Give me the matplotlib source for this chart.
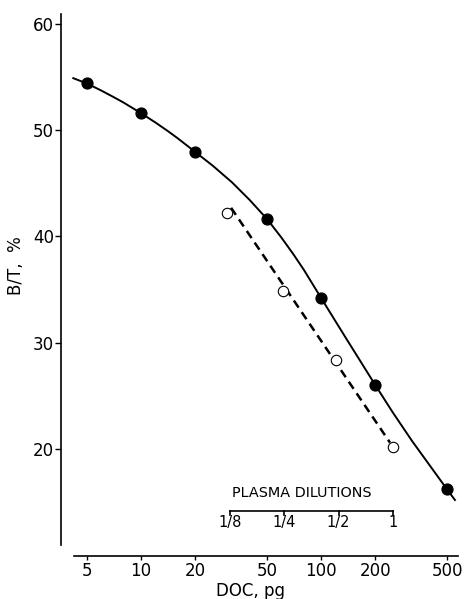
import numpy as np
import matplotlib
matplotlib.use('Agg')
import matplotlib.pyplot as plt

# standards (filled circles)
std_x = [5, 10, 20, 50, 100, 200, 500]
std_y = [54.4, 51.6, 47.95, 41.65, 34.2, 26.0, 16.2]

# smooth standard curve
curve_x = [4.2, 5, 6, 7, 8, 10, 12, 14, 16, 20, 25, 32, 40, 50, 60, 70, 80,
           100, 120, 140, 160, 200, 250, 320, 400, 500, 553]
curve_y = [54.9, 54.4, 53.74, 53.14, 52.6, 51.6, 50.73, 49.95, 49.23, 47.95,
           46.66, 45.09, 43.45, 41.65, 39.92, 38.34, 36.88, 34.2, 32.03, 30.2,
           28.63, 26.0, 23.43, 20.74, 18.47, 16.2, 15.2]

# plasma dilutions (open circles) and dashed line
plasma_x = [30, 61, 121, 250]
plasma_y = [42.2, 34.9, 28.4, 20.2]
dash_x = [31.6, 241]
dash_y = [42.7, 20.6]

dil_pos = [31.25, 62.5, 125, 250]
dil_lab = ['1/8', '1/4', '1/2', '1']

xticks = [5, 10, 20, 50, 100, 200, 500]
yticks = [20, 30, 40, 50, 60]

fig = plt.figure(figsize=(4.68, 5.99), dpi=100)
ax = fig.add_axes([61/468, 43/599, 397/468, 542/599])
ax.set_xscale('log')
ax.set_xlim(3.59, 575)
ax.set_ylim(9.93, 60.94)

ax.plot(curve_x, curve_y, color='black', lw=1.4, zorder=2, solid_joinstyle='round')
ax.plot(std_x, std_y, 'o', color='black', markersize=7.8, zorder=3)
ax.plot(dash_x, dash_y, color='black', lw=1.8, dashes=(3.4, 2.2), zorder=2)
ax.plot(plasma_x, plasma_y, 'o', mfc='white', mec='black', mew=0.8, markersize=7.5, zorder=3)

# plasma dilution scale
yl = 14.16
ax.plot([dil_pos[0], dil_pos[-1]], [yl, yl], color='black', lw=1.2)
for p, l in zip(dil_pos, dil_lab):
    ax.plot([p, p], [yl, yl - 0.35], color='black', lw=1.2)
    ax.text(p, 13.1, l, ha='center', va='center', fontsize=10.5)
ax.text(78, 15.85, 'PLASMA DILUTIONS', ha='center', va='center', fontsize=10.4)

for s in ['top', 'right']:
    ax.spines[s].set_visible(False)
ax.spines['left'].set_bounds(10.96, 60.94)
ax.spines['bottom'].set_bounds(4.24, 575)
ax.spines['left'].set_linewidth(1.2)
ax.spines['bottom'].set_linewidth(1.2)

ax.xaxis.set_major_locator(matplotlib.ticker.FixedLocator(xticks))
ax.xaxis.set_minor_locator(matplotlib.ticker.NullLocator())
ax.set_xticklabels([str(t) for t in xticks])
ax.set_yticks(yticks)
ax.tick_params(axis='x', direction='out', length=3, width=1, pad=1.5, labelsize=12)
ax.tick_params(axis='y', direction='out', length=4, width=1, pad=1, labelsize=12)

fig.text(250/468, 1 - 591/599, 'DOC, pg', ha='center', va='center', fontsize=12)
fig.text(16/468, 1 - 266/599, 'B/T,  %', ha='center', va='center', fontsize=12, rotation=90)

fig.savefig('out.png', dpi=100)
